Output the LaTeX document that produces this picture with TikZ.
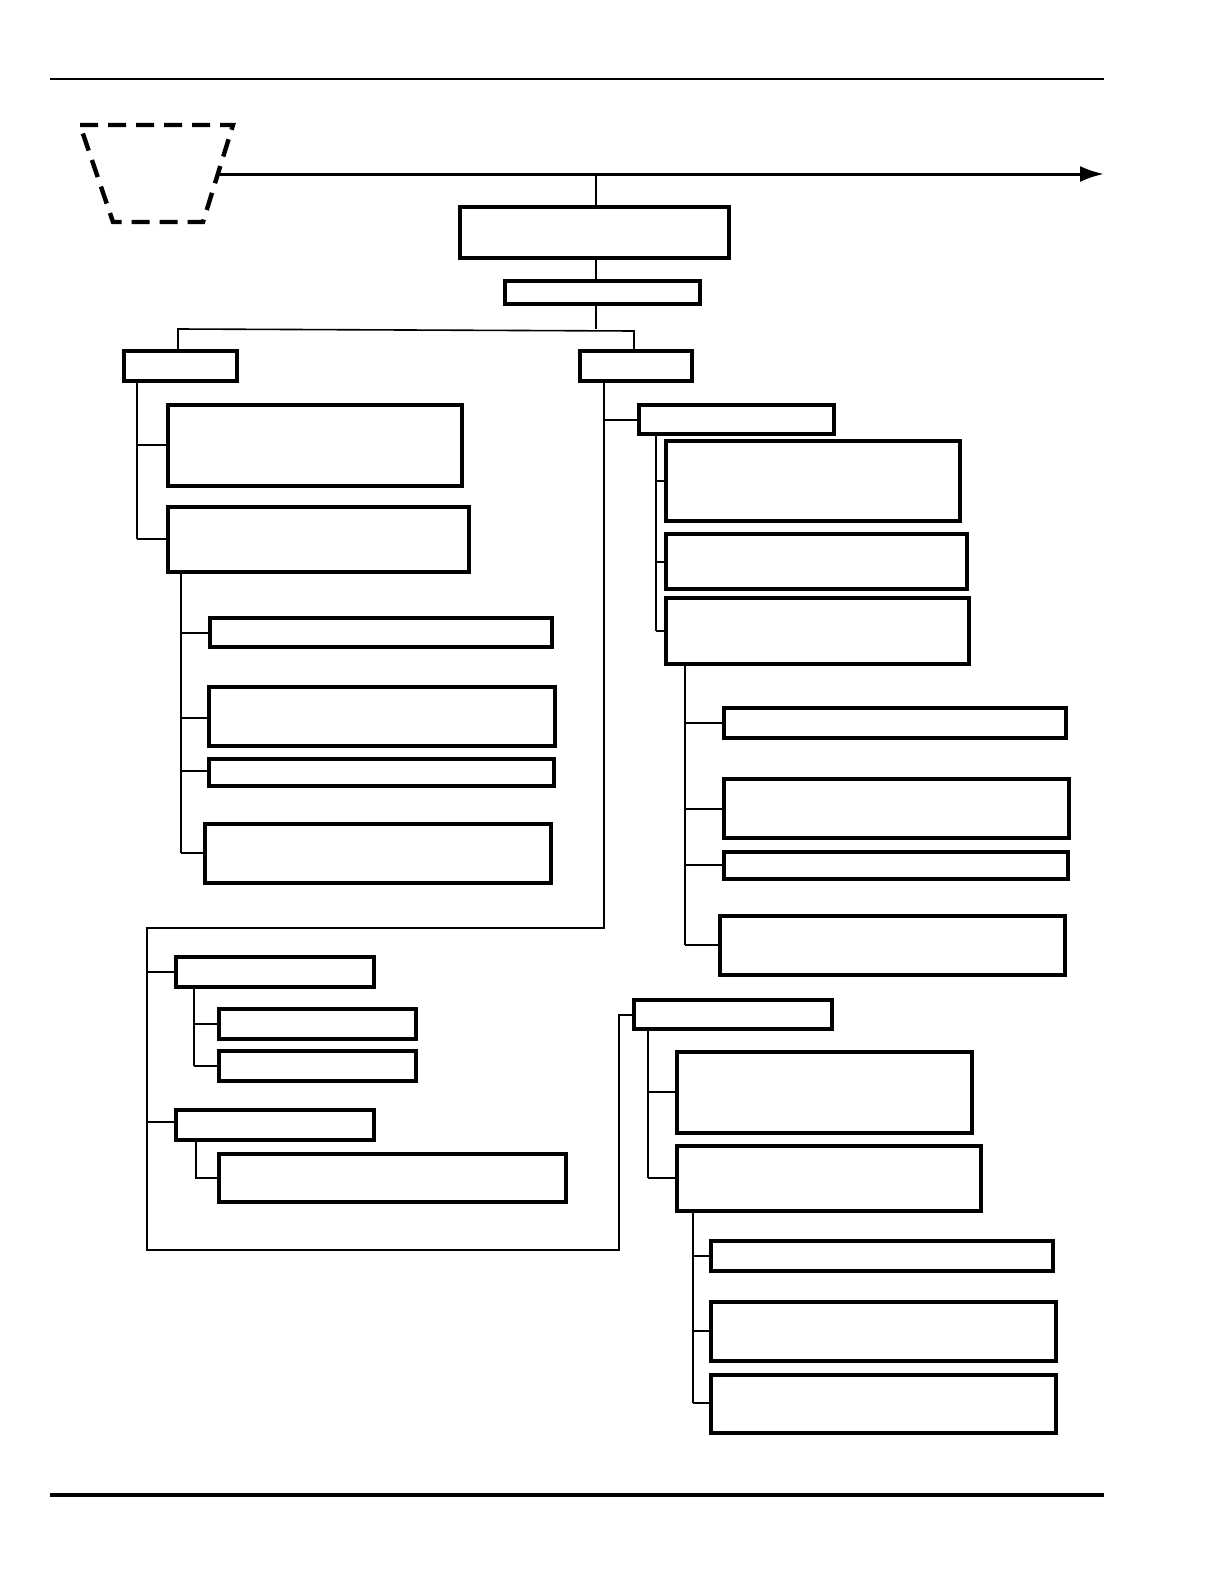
\documentclass[tikz,border=0pt]{standalone}
\usetikzlibrary{arrows.meta}
\begin{document}
\begin{tikzpicture}[x=0.5pt,y=-0.5pt,
 bx/.style={draw,line width=1.6pt},
 ln/.style={line width=0.8pt}]
\useasboundingbox (0,0) rectangle (1224,1584);
\draw[line width=0.8pt] (50,79) -- (1104,79);
\draw[line width=2pt] (50,1495) -- (1104,1495);
\draw[line width=2.2pt,dash pattern=on 9pt off 5pt] (80,125) -- (233,125) -- (203,222) -- (113,222) -- cycle;
\coordinate (as) at (218,174); \coordinate (ae) at (1104,174);
\draw[line width=1.5pt,-{Latex[length=12pt,width=8pt]}] (as) -- (ae);
\foreach \n/\a/\b/\c/\d in {top/460/207/729/258, b2/505/281/700/304, L/124/351/237/381, R/580/351/692/381,
 La/168/405/462/486, Lb/168/507/469/572, Lb1/210/618/552/647, Lb2/209/687/555/746, Lb3/209/759/554/786, Lb4/205/824/551/883,
 Ra/639/405/834/434, Ra1/666/441/960/521, Ra2/666/534/967/589, Ra3/666/598/969/664,
 Rc1/724/708/1066/738, Rc2/724/779/1069/838, Rc3/724/852/1068/879, Rc4/720/916/1065/975,
 B1/176/957/374/987, B1a/219/1009/416/1039, B1b/219/1051/416/1081, B2/176/1110/374/1140, B2a/219/1154/566/1202,
 C/634/1000/832/1029, Ca/677/1052/972/1133, Cb/677/1146/981/1211, Cb1/711/1241/1053/1271, Cb2/711/1302/1056/1361, Cb3/711/1375/1056/1433}
 {\draw[bx] (\a,\b) rectangle (\c,\d); \coordinate (\n) at (\a,\b);}
\draw[ln] (596,174) -- (596,207) (596,258) -- (596,281) (596,304) -- (596,329);
\draw[ln] (178,351) -- (178,329) -- (634,331) -- (634,351);
\draw[ln] (137,381) -- (137,539) (137,445) -- (168,445) (137,539) -- (168,539);
\draw[ln] (181,572) -- (181,853);
\foreach \y/\x in {633/210,718/209,771/209,853/205} \draw[ln] (181,\y) -- (\x,\y);
\draw[ln] (604,381) -- (604,928) -- (147,928) -- (147,1250) -- (619,1250) -- (619,1015) -- (634,1015);
\draw[ln] (604,420) -- (639,420);
\draw[ln] (147,972) -- (176,972) (147,1122) -- (176,1122);
\draw[ln] (194,987) -- (194,1066) (194,1024) -- (219,1024) (194,1066) -- (219,1066);
\draw[ln] (196,1140) -- (196,1178) -- (219,1178);
\draw[ln] (656,434) -- (656,631);
\foreach \y in {481,562,631} \draw[ln] (656,\y) -- (666,\y);
\draw[ln] (685,664) -- (685,945);
\foreach \y/\x in {723/724,809/724,865/724,945/720} \draw[ln] (685,\y) -- (\x,\y);
\draw[ln] (648,1029) -- (648,1178) (648,1092) -- (677,1092) (648,1178) -- (677,1178);
\draw[ln] (693,1211) -- (693,1403);
\foreach \y in {1256,1331,1403} \draw[ln] (693,\y) -- (711,\y);
\end{tikzpicture}
\end{document}
